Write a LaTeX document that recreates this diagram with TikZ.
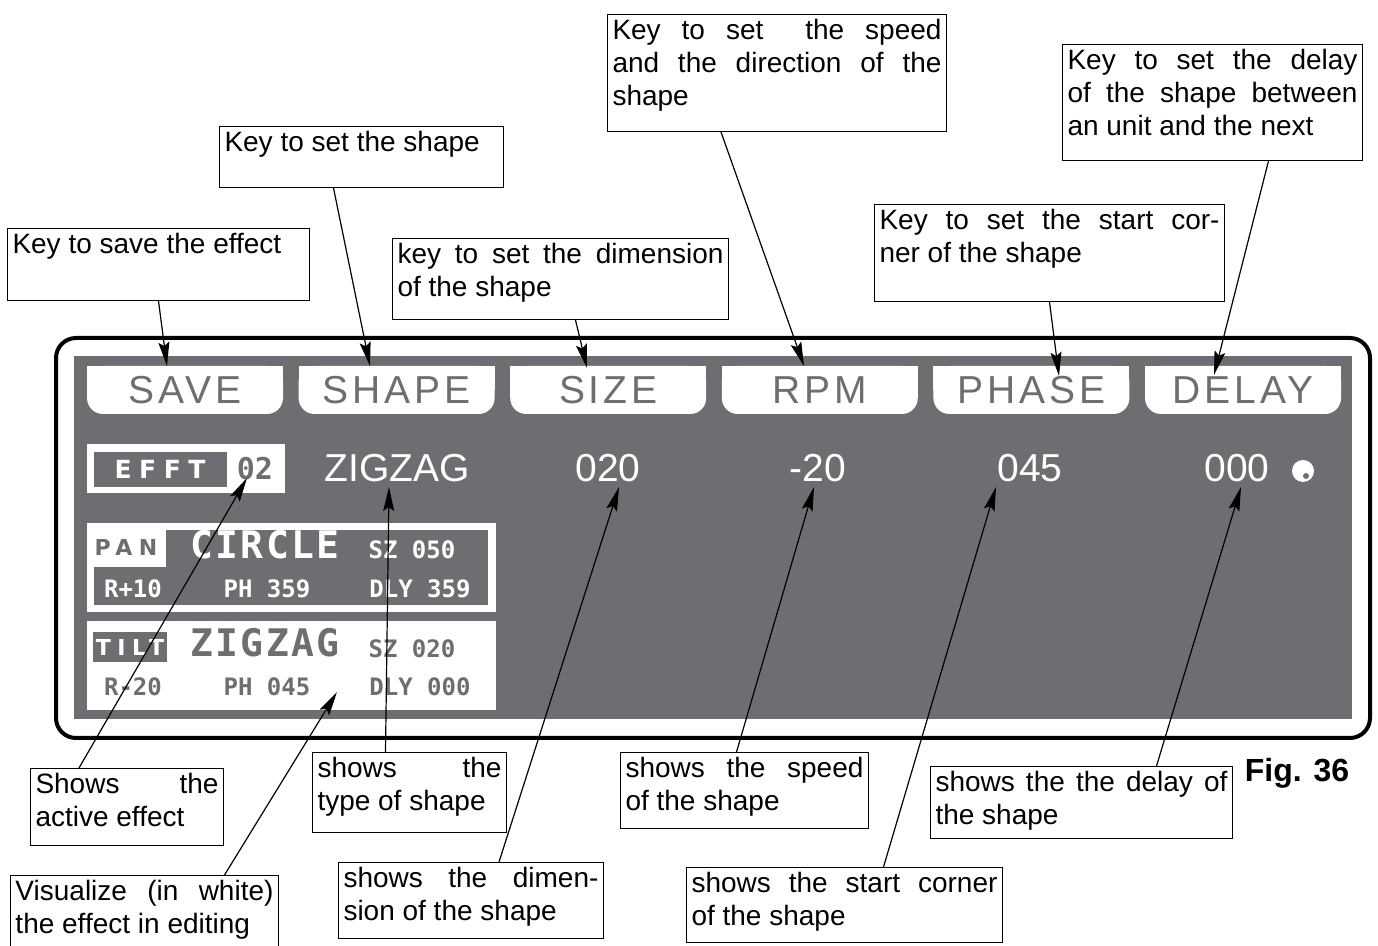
\documentclass[tikz,border=0pt]{standalone}
\usepackage{fontspec}
\setmainfont{Liberation Sans}
\newfontfamily\keyfont[LetterSpace=10]{Liberation Sans}
\newfontfamily\spacedfont[LetterSpace=30]{DejaVu Sans}
\newfontfamily\dotfont{DejaVu Sans Mono}
\newfontfamily\bigdotfont[LetterSpace=6]{DejaVu Sans Mono}
\usetikzlibrary{arrows.meta}
\definecolor{lcdgray}{RGB}{109,110,113}
\newcommand{\jline}[1]{\makebox[\linewidth][s]{#1}}
\newcommand{\ctext}[3]{\parbox[c][#2][t]{#1}{\raggedright #3}}

\begin{document}
\begin{tikzpicture}[x=0.5pt, y=-0.5pt,
  callout/.style={draw, line width=0.5pt, inner sep=2.5pt, anchor=north west, font=\fontsize{14}{16.5}\selectfont},
  leader/.style={-{Stealth[length=12pt, width=5.5pt, inset=2pt]}, line width=0.6pt},
  keylabel/.style={text=lcdgray, inner sep=0pt, font=\keyfont\fontsize{19.5}{22}\selectfont},
  lcdvalue/.style={text=white, inner sep=0pt, font=\fontsize{19.5}{22}\selectfont},
  spaced/.style={inner sep=0pt, font=\spacedfont\bfseries\fontsize{11}{12}\selectfont},
  dotsmall/.style={inner sep=0pt, font=\dotfont\bfseries\fontsize{12}{13}\selectfont},
  dotbig/.style={inner sep=0pt, font=\bigdotfont\bfseries\fontsize{19}{20}\selectfont},
]
  \useasboundingbox (0,0) rectangle (1378,946);

  % display frame
  \draw[line width=2pt, rounded corners=10pt, fill=white] (56,338) rectangle (1370,738);
  \fill[lcdgray] (74,356) rectangle (1352,719);

  % soft keys
  \foreach \lbl [count=\i from 0] in {SAVE,SHAPE,SIZE,RPM,PHASE,DELAY}{
    \pgfmathsetmacro{\tx}{87+211.6*\i}
    \fill[white] (\tx,366) rectangle ++(196,24);
    \fill[white, rounded corners=8pt] (\tx,366) rectangle ++(196,48);
    \node[keylabel] (key-\lbl) at (\tx+98,390) {\lbl};
  }

  % effect number
  \fill[white] (87,444) rectangle (285,493);
  \fill[lcdgray] (94,452) rectangle (227,487);
  \node[spaced, text=white, font=\spacedfont\bfseries\fontsize{12.5}{13}\selectfont] (efft) at (160,469) {EFFT};
  \node[text=lcdgray, inner sep=0pt, font=\dotfont\bfseries\fontsize{15}{16}\selectfont] (effno) at (255,469) {02};

  % values
  \node[lcdvalue] (shapeval) at (397,468) {ZIGZAG};
  \node[lcdvalue] (sizeval) at (608,468) {020};
  \node[lcdvalue] (rpmval) at (818,468) {-20};
  \node[lcdvalue] (phaseval) at (1030,468) {045};
  \node[lcdvalue] (delayval) at (1237,468) {000};
  \fill[white] (1303,471) circle[radius=11];
  \fill[lcdgray] (1306,476) circle[radius=3];

  % pan (grey = not in editing)
  \fill[white] (87,523) rectangle (496,612);
  \fill[lcdgray] (94,530) rectangle (488,605);
  \fill[white] (87,523) rectangle (166,567);
  \node[spaced, text=lcdgray] (pan) at (126,547) {PAN};
  \node[dotbig, text=white] (pancircle) at (265,545) {CIRCLE};
  \node[dotsmall, text=white] (pansz) at (412,550) {SZ 050};
  \node[dotsmall, text=white] (panr) at (133,589) {R+10};
  \node[dotsmall, text=white] (panph) at (267,589) {PH 359};
  \node[dotsmall, text=white] (pandly) at (420,589) {DLY 359};

  % tilt (white = in editing)
  \fill[white] (87,621) rectangle (496,710);
  \fill[lcdgray] (93,632) rectangle (167,662);
  \node[spaced, text=white] (tilt) at (130,647) {TILT};
  \node[dotbig, text=lcdgray] (tiltzig) at (265,643) {ZIGZAG};
  \node[dotsmall, text=lcdgray] (tiltsz) at (412,649) {SZ 020};
  \node[dotsmall, text=lcdgray] (tiltr) at (133,687) {R-20};
  \node[dotsmall, text=lcdgray] (tiltph) at (267,687) {PH 045};
  \node[dotsmall, text=lcdgray] (tiltdly) at (420,687) {DLY 000};

  % arrow tips
  \coordinate (savetip) at (167,366);
  \coordinate (shapetip) at (370,366);
  \coordinate (sizetip) at (587,368);
  \coordinate (rpmtip) at (804,366);
  \coordinate (phasetip) at (1059,376);
  \coordinate (delaytip) at (1214,375);
  \coordinate (efftip) at (247,478);
  \coordinate (edittip) at (337,692);
  \coordinate (zigtip) at (389,487);
  \coordinate (sizevaltip) at (619,487);
  \coordinate (rpmvaltip) at (814,487);
  \coordinate (phasevaltip) at (996,487);
  \coordinate (delayvaltip) at (1241,487);

  % callouts above
  \node[callout] (savekey) at (7,228) {\ctext{146pt}{31pt}{Key to save the effect}};
  \node[callout] (shapekey) at (219,126) {\ctext{137pt}{25.5pt}{Key to set the shape}};
  \node[callout] (sizekey) at (392,238) {\ctext{163pt}{35.5pt}{\jline{key to set the dimension}\\of the shape}};
  \node[callout] (rpmkey) at (607,14) {\ctext{164.5pt}{53.5pt}{\jline{Key to set\ \ the speed}\\\jline{and the direction of the}\\shape}};
  \node[callout] (phasekey) at (874,204) {\ctext{170pt}{43.5pt}{\jline{Key to set the start cor-}\\ner of the shape}};
  \node[callout] (delaykey) at (1062,44) {\ctext{145pt}{53pt}{\jline{Key to set the delay}\\\jline{of the shape between}\\an unit and the next}};

  % callouts below
  \node[callout] (effinfo) at (30,768) {\ctext{91.5pt}{33.5pt}{\jline{Shows the}\\active effect}};
  \node[callout] (editinfo) at (10,875) {\ctext{129pt}{33pt}{\jline{Visualize (in white)}\\the effect in editing}};
  \node[callout] (shapeinfo) at (312,752) {\ctext{92pt}{35pt}{\jline{shows the}\\type of shape}};
  \node[callout] (sizeinfo) at (338,862) {\ctext{127.5pt}{33pt}{\jline{shows the dimen-}\\sion of the shape}};
  \node[callout] (rpminfo) at (620,752) {\ctext{119pt}{33pt}{\jline{shows the speed}\\of the shape}};
  \node[callout] (phaseinfo) at (686,867) {\ctext{153pt}{32.5pt}{\jline{shows the start corner}\\of the shape}};
  \node[callout] (delayinfo) at (930,766) {\ctext{146pt}{31pt}{\jline{shows the the delay of}\\the shape}};
  \node[font=\bfseries\fontsize{16}{18}\selectfont] (fig) at (1297,773) {Fig. 36};

  % leaders
  \draw[leader] (savekey.south) -- (savetip);
  \draw[leader] ([xshift=-14pt]shapekey.south) -- (shapetip);
  \draw[leader] ([xshift=7.5pt]sizekey.south) -- (sizetip);
  \draw[leader] ([xshift=-28pt]rpmkey.south) -- (rpmtip);
  \draw[leader] (phasekey.south) -- (phasetip);
  \draw[leader] ([xshift=28pt]delaykey.south) -- (delaytip);
  \draw[leader] ([xshift=-24pt]effinfo.north) -- (efftip);
  \draw[leader] ([xshift=40pt]editinfo.north) -- (edittip);
  \draw[leader] ([xshift=-12pt]shapeinfo.north) -- (zigtip);
  \draw[leader] ([xshift=14pt]sizeinfo.north) -- (sizevaltip);
  \draw[leader] ([xshift=-4pt]rpminfo.north) -- (rpmvaltip);
  \draw[leader] ([xshift=19.5pt]phaseinfo.north) -- (phasevaltip);
  \draw[leader] ([xshift=37.5pt]delayinfo.north) -- (delayvaltip);
\end{tikzpicture}
\end{document}
